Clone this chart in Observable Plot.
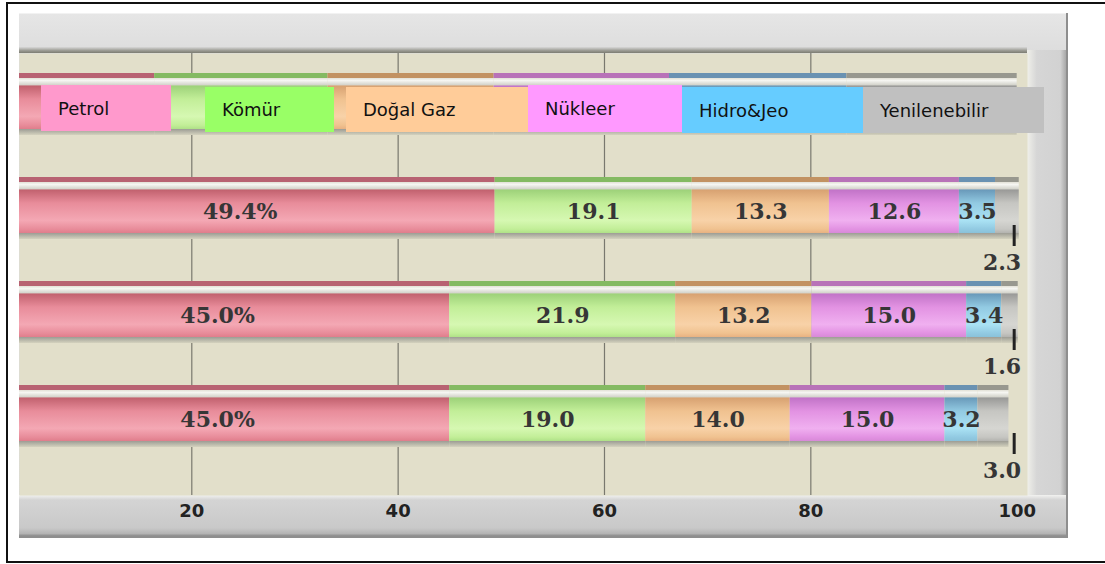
<!DOCTYPE html>
<html>
<head>
<meta charset="utf-8">
<script src="https://cdn.jsdelivr.net/npm/d3@7"></script>
<script src="https://cdn.jsdelivr.net/npm/@observablehq/plot@0.6"></script>
<style>
  body { margin: 0; background: #fff; }
  #wrap { position: relative; width: 1105px; height: 564px; overflow: hidden; background: #fff; }
  .abs { position: absolute; }
  .leg { position: absolute; display: flex; align-items: center; box-sizing: border-box;
         font-family: "DejaVu Sans", Verdana, sans-serif; font-size: 18px; color: #111; }
  #chart { position: absolute; left: 0; top: 0; }
</style>
</head>
<body>
<div id="wrap">
  <div class="abs" style="left:6px;top:2px;width:1120px;height:557px;border:2px solid #111;"></div>
  <div class="abs" style="left:19px;top:13px;width:1049px;height:525px;background:linear-gradient(180deg,#e6e6e6,#dcdcdc 8%,#d9d9d9);box-shadow:inset -2px -2px 0 #8e8e8e, inset 0 1px 0 #f2f2f2;"></div>
  <div class="abs" style="left:1027px;top:50px;width:39px;height:446px;background:linear-gradient(90deg,#f0f0ea,#d6d6d6 25%,#d2d2d2 85%,#a8a8a8);"></div>
  <div class="abs" style="left:19px;top:495px;width:1047px;height:41px;background:linear-gradient(180deg,#f2f2f0 0,#d4d4d4 12%,#c9c9c9 80%,#b4b4b4 94%,#8a8a8a 100%);"></div>
  <div class="abs" style="left:19px;top:47px;width:1008px;height:6px;background:linear-gradient(180deg,#d8d8d8,#9a9a92 60%,#7c7c72);"></div>
  <div id="chart"></div>
  <div id="legend"></div>
</div>
<script>
// ---- data ----
const rows = ["Lejant", "1", "2", "3"];
const sources = ["Petrol", "Kömür", "Doğal Gaz", "Nükleer", "Hidro&Jeo", "Yenilenebilir"];
const legendRowValues = [16.4, 16.8, 16.1, 17.0, 17.2, 16.5];
const row1Values = [49.4, 19.1, 13.3, 12.6, 3.5, 2.3];
const row2Values = [45.0, 21.9, 13.2, 15.0, 3.4, 1.6];
const row3Values = [45.0, 19.0, 14.0, 15.0, 3.2, 3.0];
const xTicks = [20, 40, 60, 80, 100];
const gridTicks = [20, 40, 60, 80];
const legendColors = ["#FF99CC", "#99FF66", "#FFCC99", "#FF99FF", "#66CCFF", "#C0C0C0"];
const barShades = [
  {strip: "#B86272", top: "#C2626F", mid: "#E88C9A", light: "#F4A8B4", bottom: "#E07E8C"},
  {strip: "#84BA62", top: "#9ED27A", mid: "#C2EE98", light: "#D6F8B2", bottom: "#B0E288"},
  {strip: "#C29262", top: "#D8A272", mid: "#F0C290", light: "#F8D2A8", bottom: "#E8B282"},
  {strip: "#B872B8", top: "#C274C8", mid: "#E292E2", light: "#F0B0F0", bottom: "#D88AD8"},
  {strip: "#6A92B2", top: "#6A9ABA", mid: "#92CAE2", light: "#AAE2F4", bottom: "#8AC2DA"},
  {strip: "#98988F", top: "#9A9A98", mid: "#C6C6C2", light: "#D6D6D2", bottom: "#B4B4B0"}
];

const allRows = [legendRowValues, row1Values, row2Values, row3Values];
const data = [];
allRows.forEach((vals, r) => vals.forEach((v, i) => data.push({row: rows[r], source: sources[i], value: v})));
const labelData = data.filter(d => d.row !== rows[0]);
const renewData = labelData.filter(d => d.source === "Yenilenebilir").map(d => ({...d, edge: 100}));

const labelText = d => {
  if (d.row === rows[0] || d.source === "Yenilenebilir") return "";
  return d.source === "Petrol" ? d.value.toFixed(1) + "%" : d.value.toFixed(1);
};

const serif = {fontFamily: "DejaVu Serif", fontWeight: "bold", fontSize: 22, fill: "#363636"};

const chart = Plot.plot({
  width: 1105,
  height: 564,
  marginLeft: 19,
  marginRight: 78,
  marginTop: 53,
  marginBottom: 69,
  style: {fontFamily: "DejaVu Sans", background: "transparent", overflow: "visible"},
  x: {domain: [3.3, 101], axis: null},
  y: {domain: rows, range: [73, 447], paddingInner: 0.404, paddingOuter: 0, axis: null},
  color: {domain: sources, range: sources.map((s, i) => `url(#shade${i})`)},
  marks: [
    Plot.frame({fill: "#E2DFCA", stroke: null}),
    Plot.gridX(gridTicks, {stroke: "#66665e", strokeOpacity: 0.85, strokeWidth: 1.2}),
    Plot.barX(data, Plot.stackX({x: "value", y: "row", z: "source", fill: "source", inset: 0, clip: true})),
    Plot.text(data, Plot.stackX({x: "value", y: "row", z: "source", text: labelText, dy: 3, ...serif})),
    Plot.tickX(renewData, {x: "edge", y: "row", dx: -3, insetTop: 48, insetBottom: -7, stroke: "#222", strokeWidth: 3}),
    Plot.text(renewData, {x: "edge", y: "row", text: d => d.value.toFixed(1), textAnchor: "end", dx: 4, dy: 54, ...serif}),
    Plot.axisX(xTicks, {tickSize: 0, tickPadding: 9, fontSize: 18, fontWeight: "bold", fill: "#222", label: null})
  ]
});

// gradient definitions for the 3D-looking bars
const defs = d3.select(chart).insert("defs", ":first-child");
barShades.forEach((c, i) => {
  const g = defs.append("linearGradient").attr("id", `shade${i}`)
    .attr("x1", 0).attr("y1", 0).attr("x2", 0).attr("y2", 1);
  const stops = [
    [0, c.strip], [0.081, c.strip],
    [0.081, "#E2E0D6"], [0.12, "#F6F6F2"], [0.19, "#D4D4CC"],
    [0.21, c.top], [0.42, c.mid], [0.7, c.light], [0.84, c.mid], [0.9, c.bottom],
    [0.903, "#9C9C94"], [1, "#D4D2BE"]
  ];
  stops.forEach(([o, col]) => g.append("stop").attr("offset", o).attr("stop-color", col));
});

document.getElementById("chart").appendChild(chart);

// HTML legend overlaid on the top row
const legendBoxes = [
  {left: 41, top: 85, right: 171, bottom: 131},
  {left: 205, top: 87, right: 334, bottom: 132},
  {left: 346, top: 87, right: 528, bottom: 132},
  {left: 528, top: 85, right: 682, bottom: 132},
  {left: 682, top: 87, right: 863, bottom: 133},
  {left: 863, top: 87, right: 1044, bottom: 133}
];
const legend = document.getElementById("legend");
sources.forEach((s, i) => {
  const b = legendBoxes[i];
  const el = document.createElement("div");
  el.className = "leg";
  el.style.left = b.left + "px";
  el.style.top = b.top + "px";
  el.style.width = (b.right - b.left) + "px";
  el.style.height = (b.bottom - b.top) + "px";
  el.style.background = legendColors[i];
  el.style.paddingLeft = "17px";
  el.textContent = s;
  legend.appendChild(el);
});
</script>
</body>
</html>
